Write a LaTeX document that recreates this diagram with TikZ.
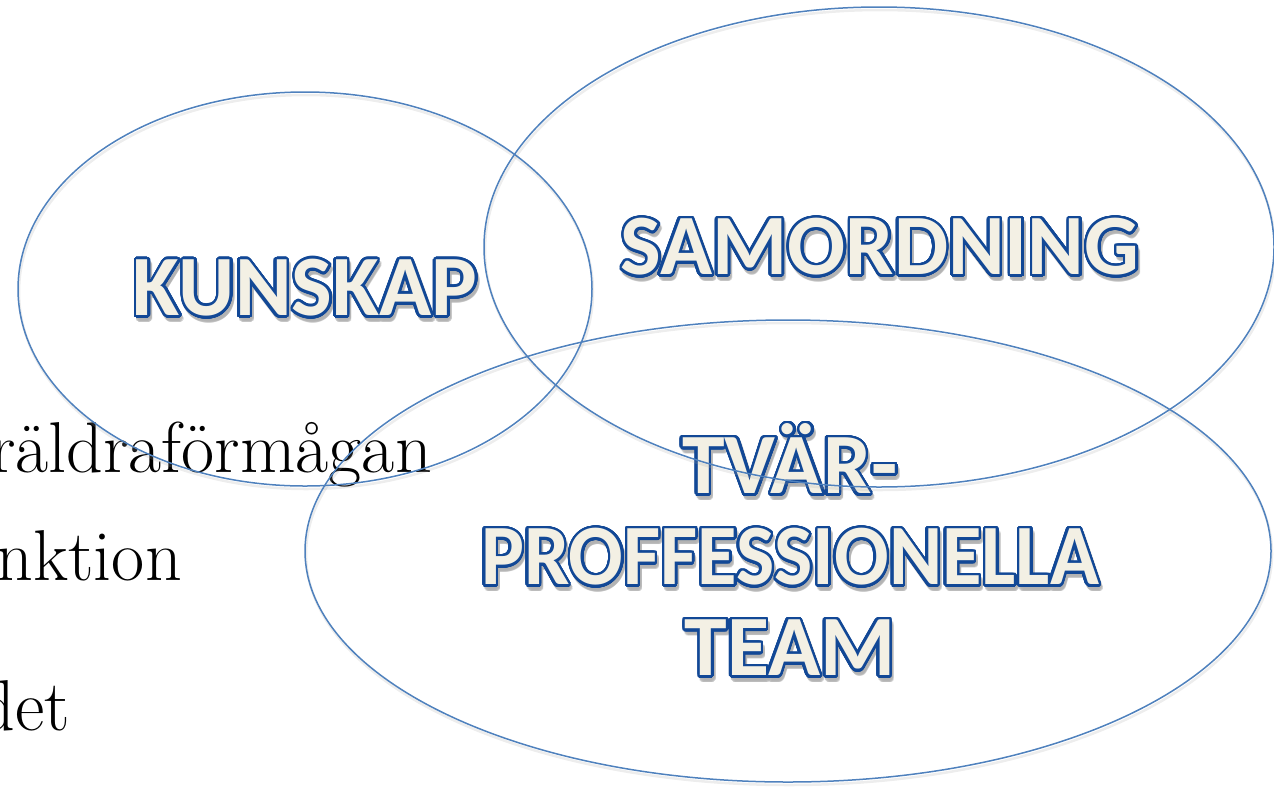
\documentclass[tikz,border=0pt]{standalone}
\usepackage{fontspec}
\usepackage[copies]{contour}
\newfontfamily\headfont{Carlito}[BoldFont={* Bold}]
\definecolor{ringblue}{RGB}{79,129,189}
\definecolor{wordblue}{RGB}{18,72,150}
\definecolor{cream}{RGB}{243,240,228}
\contourlength{2.6pt}
\contournumber{40}
\tikzset{
  ring/.style={draw=ringblue, line width=1.5pt},
  ringshadow/.style={draw=black!35, line width=2.5pt, opacity=0.2},
  headword/.style={font=\headfont\bfseries\fontsize{86}{91}\selectfont, text=cream, align=center, inner sep=0pt},
  headshadow/.style={font=\headfont\bfseries\fontsize{86}{91}\selectfont, text=black!30, align=center, inner sep=0pt, opacity=0.25},
  bodytext/.style={font=\fontsize{72}{80}\selectfont, inner sep=0pt, anchor=base east}
}
\newcommand{\pline}[1]{\scalebox{0.94}[1]{#1}}
\begin{document}
\begin{tikzpicture}[x=1pt,y=-1pt]
\useasboundingbox (0,0) rectangle (1274,788);
% background text (partly hidden at the left edge)
\node[bodytext] (t1) at (432,472) {räldraförmågan};
\node[bodytext] (t2) at (182,580) {nktion};
\node[bodytext] (t3) at (70,730) {det};
% headword shadows
\node[headshadow] (kuns) at (307,293) {\contour{black!30}{KUNSKAP}};
\node[headshadow] (sams) at (882,252) {\contour{black!30}{SAMORDNING}};
\node[headshadow] (tvas) at (792,555) {\contour{black!30}{TVÄR-}\\\pline{\contour{black!30}{PROFFESSIONELLA}}\\\contour{black!30}{TEAM}};
% headwords
\node[headword] (kun) at (305,289) {\contour{wordblue}{KUNSKAP}};
\node[headword] (sam) at (880,248) {\contour{wordblue}{SAMORDNING}};
\node[headword] (tva) at (790,551) {\contour{wordblue}{TVÄR-}\\\pline{\contour{wordblue}{PROFFESSIONELLA}}\\\contour{wordblue}{TEAM}};
% ellipse centres
\coordinate (ck) at (305,289);
\coordinate (cs) at (879,247);
\coordinate (ct) at (788,551);
\coordinate (cks) at (306,292);
\coordinate (css) at (880,250);
\coordinate (cts) at (789,554);
% ellipse shadows
\draw[ringshadow] (cks) ellipse [x radius=287, y radius=197];
\draw[ringshadow] (css) ellipse [x radius=395, y radius=240];
\draw[ringshadow] (cts) ellipse [x radius=483, y radius=231];
% ellipses
\draw[ring] (ck) ellipse [x radius=287, y radius=197];
\draw[ring] (cs) ellipse [x radius=395, y radius=240];
\draw[ring] (ct) ellipse [x radius=483, y radius=231];
\end{tikzpicture}
\end{document}
